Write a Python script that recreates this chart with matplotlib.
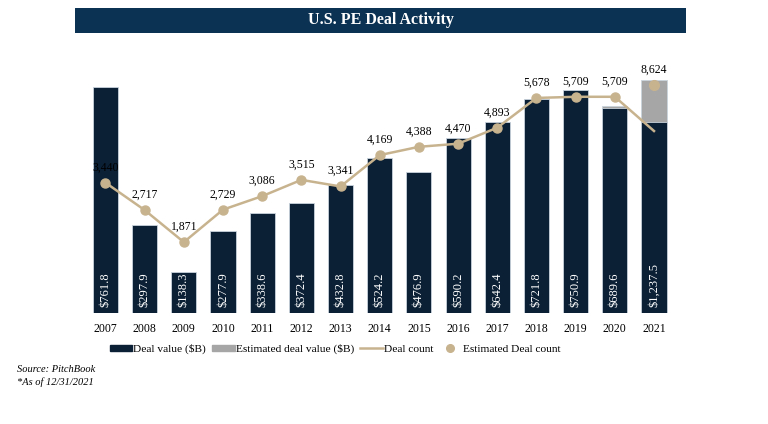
import numpy as np
import matplotlib.pyplot as plt
from matplotlib.patches import Rectangle
from matplotlib.lines import Line2D

plt.rcParams['font.family'] = ['Liberation Serif', 'DejaVu Serif']

# data
years = ['2007', '2008', '2009', '2010', '2011', '2012', '2013', '2014',
         '2015', '2016', '2017', '2018', '2019', '2020', '2021']
# bar heights as drawn ($B); 2021 bar is drawn shorter than its label
deal_value = [761.8, 297.9, 138.3, 277.9, 338.6, 372.4, 432.8, 524.2,
              476.9, 590.2, 642.4, 721.8, 750.9, 689.6, 644.0]
value_labels = ['$761.8', '$297.9', '$138.3', '$277.9', '$338.6', '$372.4',
                '$432.8', '$524.2', '$476.9', '$590.2', '$642.4', '$721.8',
                '$750.9', '$689.6', '$1,237.5']
# estimated totals (only 2020, 2021)
est_value = [0, 0, 0, 0, 0, 0, 0, 0, 0, 0, 0, 0, 0, 697.0, 786.0]

deal_count = [3440, 2717, 1871, 2729, 3086, 3515, 3341, 4169,
              4388, 4470, 4893, 5678, 5709, 5709, 4805]
count_labels = ['3,440', '2,717', '1,871', '2,729', '3,086', '3,515', '3,341',
                '4,169', '4,388', '4,470', '4,893', '5,678', '5,709', '5,709']
est_count_x = 14
est_count = 6020
est_count_label = '8,624'

navy = '#0b2035'
banner = '#0c3253'
gray = '#a6a6a6'
tan = '#c8b38f'

W, H = 768, 424
fig = plt.figure(figsize=(W / 100, H / 100), dpi=100)

def px(l, t, r, b):
    return [l / W, 1 - b / H, (r - l) / W, (b - t) / H]

# title banner
bax = fig.add_axes(px(75, 8, 686, 33))
bax.set_axis_off()
bax.add_patch(Rectangle((0, 0), 1, 1, transform=bax.transAxes, color=banner))
bax.text(0.5, 0.5, 'U.S. PE Deal Activity', color='white', fontsize=11.5,
         fontweight='bold', ha='center', va='center', transform=bax.transAxes)

ax = fig.add_axes(px(85, 60, 675, 313))
x = np.arange(len(years))
bw = 0.64
ax.bar(x, est_value, width=bw, color=gray, edgecolor='#c9d3dc', linewidth=0.6, zorder=1)
ax.bar(x, deal_value, width=bw, color=navy, edgecolor='#c9d3dc', linewidth=0.6, zorder=2)
ax.set_xlim(-0.523, 14.536)
ax.set_ylim(0, 853)
for s in ax.spines.values():
    s.set_visible(False)
ax.set_yticks([])
ax.set_xticks(x)
ax.set_xticklabels(years, fontsize=8.5)
ax.tick_params(axis='x', length=0, pad=7)

for xi, lab in zip(x, value_labels):
    ax.annotate(lab, (xi, 0), xytext=(0, 4.5), textcoords='offset points',
                rotation=90, ha='center', va='bottom', color='white',
                fontsize=9, zorder=5)

ax2 = ax.twinx()
ax2.set_ylim(0, 6680)
ax2.set_axis_off()
ax2.plot(x, deal_count, color=tan, linewidth=1.8, zorder=3)
ax2.plot(x[:-1], deal_count[:-1], 'o', color=tan, markersize=6.5, zorder=4)
ax2.plot([est_count_x], [est_count], 'o', color=tan, markersize=7, zorder=4)
for xi, c, lab in zip(x, deal_count, count_labels):
    ax2.annotate(lab, (xi, c), xytext=(0, 11), textcoords='offset points',
                 ha='center', va='center', fontsize=8.5)
ax2.annotate(est_count_label, (est_count_x, est_count), xytext=(0, 11),
             textcoords='offset points', ha='center', va='center', fontsize=8.5)

handles = [Rectangle((0, 0), 1, 1, color=navy),
           Rectangle((0, 0), 1, 1, color=gray),
           Line2D([], [], color=tan, linewidth=1.8),
           Line2D([], [], color=tan, marker='o', linestyle='none', markersize=5.5)]
labels = ['Deal value ($B)', 'Estimated deal value ($B)', 'Deal count',
          'Estimated Deal count']
fig.legend(handles, labels, loc='center', bbox_to_anchor=(335 / W, 1 - 349 / H),
           ncol=4, frameon=False, fontsize=8.2, handlelength=2.0,
           handleheight=0.5, handletextpad=0.1, columnspacing=0.5)

fig.text(17 / W, 1 - 369 / H, 'Source: PitchBook', fontsize=7.5, style='italic',
         va='center', ha='left')
fig.text(17 / W, 1 - 382 / H, '*As of 12/31/2021', fontsize=7.5, style='italic',
         va='center', ha='left')

fig.savefig('out.png', dpi=100)
